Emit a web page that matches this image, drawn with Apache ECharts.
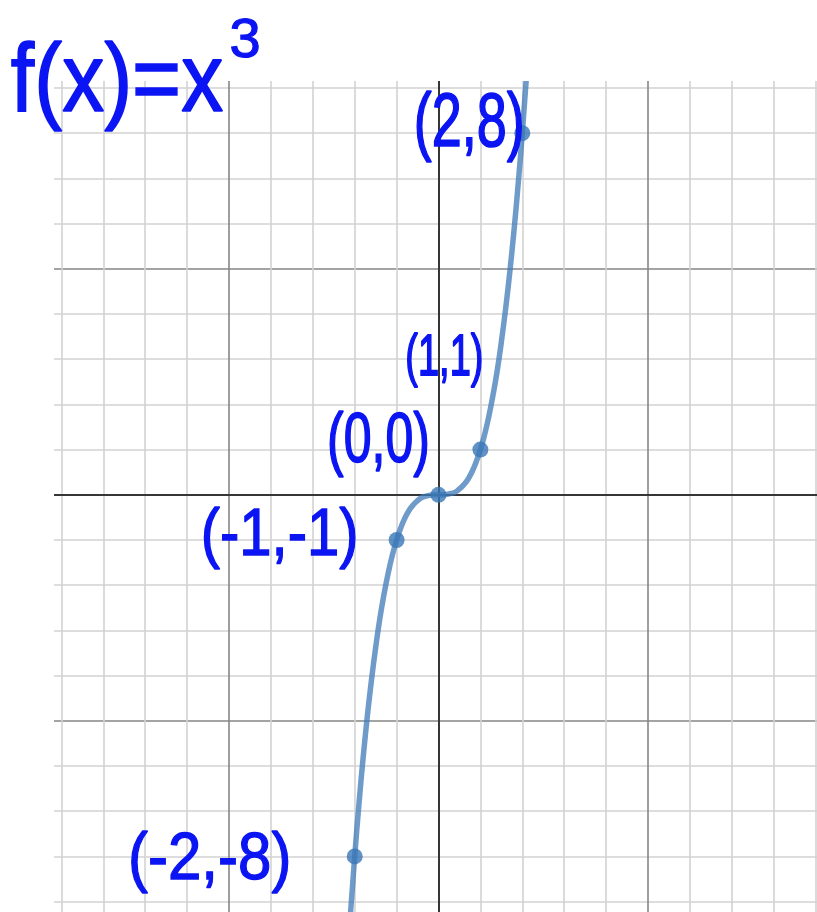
<!DOCTYPE html>
<html>
<head>
<meta charset="utf-8">
<script src="https://cdn.jsdelivr.net/npm/echarts@6/dist/echarts.min.js"></script>
<style>
  html, body { margin: 0; padding: 0; background: #ffffff; overflow: hidden; width: 817px; height: 912px; }
  /* the paper runs a little past the right and bottom edges of the view */
  #main { width: 858px; height: 947px; }
</style>
</head>
<body>
<div id="main"></div>
<script>
// Curve samples of f(x) = x^3
const curveX = [-2.1, -2.0, -1.9, -1.8, -1.7, -1.6, -1.5, -1.4, -1.3, -1.2, -1.1, -1.0,
                -0.9, -0.8, -0.7, -0.6, -0.5, -0.4, -0.3, -0.2, -0.1, 0.0,
                 0.1, 0.2, 0.3, 0.4, 0.5, 0.6, 0.7, 0.8, 0.9, 1.0,
                 1.1, 1.2, 1.3, 1.4, 1.5, 1.6, 1.7, 1.8, 1.9, 2.0, 2.1];
const curveY = [-9.26, -8.00, -6.86, -5.83, -4.91, -4.10, -3.38, -2.74, -2.20, -1.73, -1.33, -1.00,
                -0.73, -0.51, -0.34, -0.22, -0.13, -0.06, -0.03, -0.01, 0.00, 0.00,
                 0.00, 0.01, 0.03, 0.06, 0.13, 0.22, 0.34, 0.51, 0.73, 1.00,
                 1.33, 1.73, 2.20, 2.74, 3.38, 4.10, 4.91, 5.83, 6.86, 8.00, 9.26];

// Marked points
const pointX = [-2, -1, 0, 1, 2];
const pointY = [-8, -1, 0, 1, 8];

// Axis range (grid lines every unit, darker every five)
const axisMin = -10;
const axisMax = 10;
const gridStep = 1;
const majorStep = 5;

// Heading
const headingBase = 'f(x)=x';
const headingPower = '3';

// Placement of each point note relative to its point: offset, font size, vertical stretch
const noteLayout = [
  { dx: -145, dy: 4,   size: 60, sy: 1.1 },
  { dx: -117, dy: -3,  size: 58, sy: 1.15 },
  { dx: -60,  dy: -52, size: 50, sy: 1.4 },
  { dx: -36,  dy: -90, size: 38, sy: 1.5 },
  { dx: -53,  dy: -8,  size: 54, sy: 1.4 }
];

const INK = '#0b14f2';
const MINOR = '#d2d2d2';
const MAJOR = '#868686';
const AXIS = '#363636';
const CURVE = 'rgba(62, 122, 184, 0.75)';
const DOT = '#3a77b6';
const FONT = '"Liberation Sans", Arial, sans-serif';

// The drawn graph paper starts at (54, 81); the axis range runs a little past it
const paperLeft = 54;
const paperTop = 81;

// one colour per grid line from axisMin upward: every fifth line is darker
const lineColors = [];
for (let v = axisMin; v <= axisMax; v += gridStep) {
  lineColors.push(v % majorStep === 0 ? MAJOR : MINOR);
}

function valueAxis() {
  return {
    type: 'value',
    min: axisMin,
    max: axisMax,
    interval: gridStep,
    axisLine: { show: true, onZero: true, lineStyle: { color: AXIS, width: 2 } },
    axisTick: { show: false },
    axisLabel: { show: false },
    splitLine: { show: true, lineStyle: { color: lineColors, width: 1.6 } }
  };
}

const chart = echarts.init(document.getElementById('main'), null, { renderer: 'canvas' });

chart.setOption({
  animation: false,
  backgroundColor: '#ffffff',
  grid: { left: 19.5, top: 42.8, width: 838, height: 904, containLabel: false },
  xAxis: valueAxis(),
  yAxis: valueAxis(),
  series: [
    {
      type: 'line',
      data: curveX.map((x, i) => [x, curveY[i]]),
      smooth: true,
      showSymbol: false,
      clip: true,
      lineStyle: { color: CURVE, width: 5.5 },
      z: 3
    },
    {
      type: 'scatter',
      data: pointX.map((x, i) => [x, pointY[i]]),
      symbolSize: 16,
      itemStyle: { color: DOT },
      z: 4
    }
  ]
});

// Hand-lettered notes beside each marked point
const notes = pointX.map((x, i) => {
  const p = chart.convertToPixel({ xAxisIndex: 0, yAxisIndex: 0 }, [x, pointY[i]]);
  const L = noteLayout[i];
  return {
    type: 'text',
    x: p[0] + L.dx,
    y: p[1] + L.dy,
    scaleY: L.sy,
    z: 100,
    style: {
      text: '(' + x + ',' + pointY[i] + ')',
      x: 0, y: 0,
      align: 'center',
      verticalAlign: 'middle',
      fontFamily: FONT,
      fontSize: L.size,
      fill: INK,
      stroke: INK,
      lineWidth: 1.2
    }
  };
});

chart.setOption({
  graphic: [
    // white margin left of and above the graph paper
    { type: 'rect', z: 50, silent: true,
      shape: { x: 0, y: 0, width: paperLeft, height: 947 },
      style: { fill: '#ffffff' } },
    { type: 'rect', z: 50, silent: true,
      shape: { x: 0, y: 0, width: 858, height: paperTop },
      style: { fill: '#ffffff' } },
    {
      type: 'text',
      x: 117, y: 84,
      z: 100,
      scaleY: 1.15,
      style: {
        text: headingBase,
        x: 0, y: 0,
        align: 'center',
        verticalAlign: 'middle',
        fontFamily: FONT,
        fontSize: 84,
        fill: INK,
        stroke: INK,
        lineWidth: 1.5
      }
    },
    {
      type: 'text',
      x: 245, y: 42,
      z: 100,
      style: {
        text: headingPower,
        x: 0, y: 0,
        align: 'center',
        verticalAlign: 'middle',
        fontFamily: FONT,
        fontSize: 56,
        fill: INK,
        stroke: INK,
        lineWidth: 1.2
      }
    }
  ].concat(notes)
});
</script>
</body>
</html>
